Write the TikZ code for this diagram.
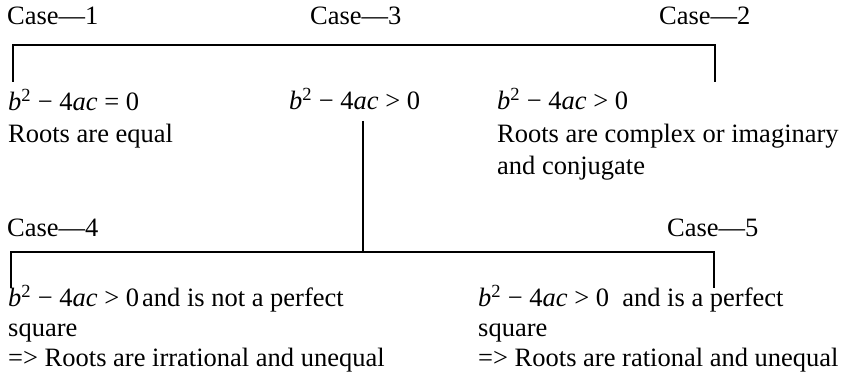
\documentclass[tikz,border=0pt]{standalone}
\usepackage{fontspec}
\setmainfont{Liberation Serif}
\usepackage{tikz}
\usetikzlibrary{positioning,calc}
\newcommand{\disc}[1]{\textit{b}\textsuperscript{2} − 4\textit{ac} #1 0}

\begin{document}
\begin{tikzpicture}[x=1pt,y=1pt,
every node/.style={inner sep=0pt,anchor=base west,align=left,font=\fontsize{26.5}{32.5}\selectfont},
low/.style={font=\fontsize{26.5}{30}\selectfont},
bar/.style={draw,line width=1.1pt}]
\useasboundingbox (0,0) rectangle (844,387);
\node (c1) at (7,362) {Case---1};
\node (c3) at (310,362) {Case---3};
\node (c2) at (659,362) {Case---2};
\node (t1) at (8,244) {\disc{=}\\Roots are equal};
\node (t3) at (289,277) {\disc{>}};
\node (t2) at (497,212) {\disc{>}\\Roots are complex or imaginary\\and conjugate};
\node (c4) at (7,150) {Case---4};
\node (c5) at (667,150) {Case---5};
\node[low] (t4) at (8,20) {\disc{>}\kern3pt and is not a perfect\\square\\=> Roots are irrational and unequal};
\node[low] (t5) at (478,20) {\disc{>}~ and is a perfect\\square\\=> Roots are rational and unequal};
\coordinate (a1) at (13,305);
\coordinate (a2) at (715,305);
\coordinate (top) at (0,342);
\coordinate (m1) at (363,266);
\coordinate (m2) at (363,135);
\coordinate (b1) at (11,99);
\coordinate (b2) at (714,99);
\draw[bar] (a1) -- (a1 |- top) -- (a2 |- top) -- (a2);
\draw[bar] (m1) -- (m2);
\draw[bar] (b1) -- (b1 |- m2) -- (b2 |- m2) -- (b2);
\end{tikzpicture}
\end{document}
